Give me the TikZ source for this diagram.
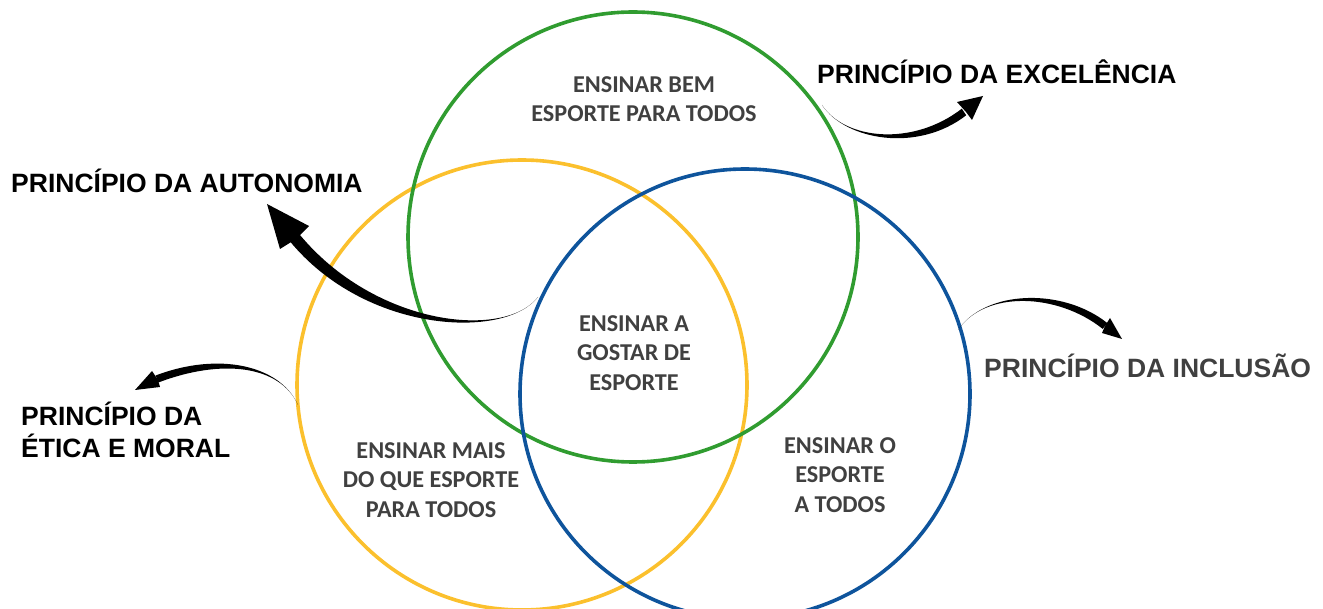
\documentclass[tikz,border=0pt]{standalone}
\usepackage{fontspec}
\setmainfont{Liberation Sans}
\newfontfamily\carl{Carlito}
\usetikzlibrary{calc}
\definecolor{cgreen}{RGB}{48,156,48}
\definecolor{cyellow}{RGB}{251,192,45}
\definecolor{cblue}{RGB}{14,84,156}
\definecolor{tgray}{RGB}{64,64,64}
\tikzset{
  ring/.style={draw=#1, line width=3.6pt, circle, minimum size=450pt, inner sep=0pt},
  inner/.style={font=\carl\bfseries\fontsize{24.2}{29.5}\selectfont, text=tgray, align=center, inner sep=0pt},
  princ/.style={font=\bfseries\fontsize{26.5}{32}\selectfont, inner sep=0pt, anchor=west, align=left},
  taper/.style={fill=black, draw=none}
}
\begin{document}
\begin{tikzpicture}[x=1pt,y=-1pt]
\useasboundingbox (0,0) rectangle (1323,609);
% circles
\node[ring=cyellow] (Y) at (522,385) {};
\node[ring=cgreen] (G) at (633,237) {};
\node[ring=cblue] (B) at (745,394) {};
% inner texts
\node[inner] (tg) at (644,99) {ENSINAR BEM\\ESPORTE PARA TODOS};
\node[inner] (tc) at (634,353) {ENSINAR A\\GOSTAR DE\\ESPORTE};
\node[inner] (ty) at (431,480) {ENSINAR MAIS\\DO QUE ESPORTE\\PARA TODOS};
\node[inner] (tb) at (840,475) {ENSINAR O\\ESPORTE\\A TODOS};
% principle labels
\node[princ] (exc) at (817,71.5) {PRINCÍPIO DA EXCELÊNCIA};
\node[princ] (aut) at (11,180.5) {PRINCÍPIO DA AUTONOMIA};
\node[princ] (eti) at (21,429.5) {PRINCÍPIO DA\\ÉTICA E MORAL};
\node[princ, text=tgray] (inc) at (984,365.5) {PRINCÍPIO DA INCLUSÃO};
% anchor coordinates of connectors
\coordinate (sA) at (822,105);
\coordinate (sB) at (538,297);
\coordinate (sC) at (298,405);
\coordinate (sD) at (958,330);
% Arrow A (excellence)
\fill[taper] (sA) .. controls (845,140) and ($(915,150)+(2.2,3.3)$) .. ($(964,112)+(2.2,3.3)$)
  -- ($(964,112)-(2.2,3.3)$) .. controls ($(915,150)-(2.2,3.3)$) and (845,140) .. (sA) -- cycle;
\fill[taper] (983,96) -- (957,102) -- (966,112) -- (972,120) -- cycle;
% Arrow B (autonomy)
\fill[taper] (sB) .. controls (505,340) and ($(370,330)+(4.6,-3.7)$) .. ($(294,237)+(4.6,-3.7)$)
  -- ($(294,237)-(4.6,-3.7)$) .. controls ($(370,330)-(4.6,-3.7)$) and (505,340) .. (sB) -- cycle;
\fill[taper] (267,204) -- (280,249) -- (296,239) -- (309,226) -- cycle;
% Arrow C (ethics)
\fill[taper] (sC) .. controls (280,365) and ($(220,355)+(1.4,3.5)$) .. ($(157,379)+(1.4,3.5)$)
  -- ($(157,379)-(1.4,3.5)$) .. controls ($(220,355)-(1.4,3.5)$) and (280,365) .. (sC) -- cycle;
\fill[taper] (135,390) -- (152,371) -- (158,380) -- (160,387) -- cycle;
% Arrow D (inclusion)
\fill[taper] (sD) .. controls (985,290) and ($(1060,290)+(-2.3,2.9)$) .. ($(1105,326)+(-2.3,2.9)$)
  -- ($(1105,326)-(-2.3,2.9)$) .. controls ($(1060,290)-(-2.3,2.9)$) and (985,290) .. (sD) -- cycle;
\fill[taper] (1122,339) -- (1110,318) -- (1105,326) -- (1102,333) -- cycle;
\end{tikzpicture}
\end{document}
